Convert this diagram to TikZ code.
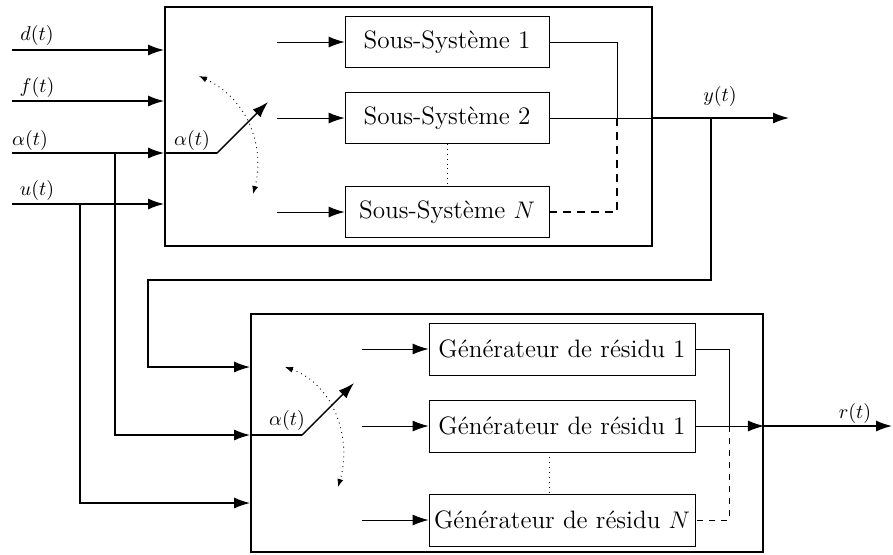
\documentclass[tikz,border=0pt]{standalone}
\usetikzlibrary{arrows.meta}
\begin{document}
\begin{tikzpicture}[x=0.5pt,y=-0.5pt,
  outer/.style={draw,line width=0.9pt,inner sep=0pt},
  sub/.style={draw,line width=0.45pt,inner sep=0pt,font=\fontsize{12.6}{15}\selectfont},
  sig/.style={line width=0.7pt},
  thinl/.style={line width=0.45pt},
  arr/.style={-{Latex[length=8pt,width=5.5pt]}},
  dblarr/.style={{Latex[length=4pt,width=3pt]}-{Latex[length=4pt,width=3pt]}},
  lbl/.style={inner sep=0pt}]
\useasboundingbox (0,0) rectangle (893,554);

% ---------- top system ----------
\node[outer,minimum width=243.5pt,minimum height=119.5pt] (sys) at (408.5,126.5) {};
\node[sub,minimum width=102pt,minimum height=25.5pt] (s1) at (447,42) {Sous-Système 1};
\node[sub,minimum width=102pt,minimum height=25.5pt] (s2) at (447,118) {Sous-Système 2};
\node[sub,minimum width=102pt,minimum height=25.5pt] (sN) at (447,212) {Sous-Système $N$};

\coordinate (din) at (12,50);
\coordinate (fin) at (12,101);
\coordinate (ain) at (12,153);
\coordinate (uin) at (12,204);
\node[lbl] (ld) at (37,35) {$d(t)$};
\node[lbl] (lf) at (37,87) {$f(t)$};
\node[lbl] (la) at (30,140) {$\alpha(t)$};
\node[lbl] (lu) at (37,190) {$u(t)$};
\draw[sig,arr] (din) -- (din -| sys.west);
\draw[sig,arr] (fin) -- (fin -| sys.west);
\draw[sig,arr] (ain) -- (ain -| sys.west);
\draw[sig,arr] (uin) -- (uin -| sys.west);

% switch (top)
\coordinate (sw1) at (217,153);
\coordinate (sw1t) at (268,102);
\node[lbl] (la1) at (192,140) {$\alpha(t)$};
\draw[sig] (ain -| sys.west) -- (sw1);
\draw[sig,arr] (sw1) -- (sw1t);
\coordinate (a1s) at (199,76);
\coordinate (a1e) at (253,194);
\draw[thinl,dotted,dblarr] (a1s) .. controls (250,100) and (265,150) .. (a1e);

% inputs to subsystems
\coordinate (i1) at (277,0);
\draw[thinl,arr] (i1 |- s1.west) -- (s1.west);
\draw[thinl,arr] (i1 |- s2.west) -- (s2.west);
\draw[thinl,arr] (i1 |- sN.west) -- (sN.west);
\draw[thinl,dotted] (s2.south) -- (sN.north);

% outputs
\coordinate (xo) at (617,0);
\draw[thinl] (s1.east) -| (xo |- s2.east);
\draw[line width=0.55pt,dash pattern=on 4pt off 3pt] (xo |- s2.east) |- (sN.east);
\draw[thinl] (s2.east) -- (s2.east -| sys.east);
\coordinate (yout) at (789,118);
\draw[sig,arr] (s2.east -| sys.east) -- (yout);
\node[lbl] (ly) at (720,96) {$y(t)$};

% feedback
\coordinate (yb) at (711,118);
\coordinate (fb1) at (711,280);
\coordinate (fb2) at (148,280);
\coordinate (g1lev) at (0,367);
\coordinate (g2lev) at (0,435);
\coordinate (g3lev) at (0,503);
\coordinate (ja) at (115,153);
\coordinate (ju) at (80,204);

% ---------- bottom generator ----------
\node[outer,minimum width=256pt,minimum height=119pt] (gen) at (507,433) {};
\node[sub,minimum width=133pt,minimum height=26pt] (g1) at (562,349) {Générateur de résidu 1};
\node[sub,minimum width=133pt,minimum height=26pt] (g2) at (562,426) {Générateur de résidu 1};
\node[sub,minimum width=133pt,minimum height=26pt] (gN) at (562,520) {Générateur de résidu $N$};

\draw[sig,arr] (yb) -- (fb1) -- (fb2) |- (gen.west |- g1lev);
\draw[sig,arr] (ja) |- (gen.west |- g2lev);
\draw[sig,arr] (ju) |- (gen.west |- g3lev);

% switch (bottom)
\coordinate (sw2) at (302,435);
\coordinate (sw2t) at (354,383);
\node[lbl] (la2) at (287,420) {$\alpha(t)$};
\draw[sig] (gen.west |- g2lev) -- (sw2);
\draw[sig,arr] (sw2) -- (sw2t);
\coordinate (a2s) at (285,367);
\coordinate (a2e) at (338,487);
\draw[thinl,dotted,dblarr] (a2s) .. controls (335,385) and (352,440) .. (a2e);

\coordinate (i2) at (362,0);
\draw[thinl,arr] (i2 |- g1.west) -- (g1.west);
\draw[thinl,arr] (i2 |- g2.west) -- (g2.west);
\draw[thinl,arr] (i2 |- gN.west) -- (gN.west);
\coordinate (dv) at (549,0);
\draw[thinl,dotted] (g2.south -| dv) -- (gN.north -| dv);

\coordinate (xo2) at (729,0);
\draw[thinl] (g1.east) -| (xo2 |- g2.east);
\draw[thinl,dash pattern=on 3pt off 3pt] (xo2 |- g2.east) |- (gN.east);
\draw[thinl,arr] (g2.east) -- (g2.east -| gen.east);
\coordinate (rout) at (892,426);
\draw[sig,arr] (g2.east -| gen.east) -- (rout);
\node[lbl] (lr) at (855,413) {$r(t)$};
\end{tikzpicture}
\end{document}
